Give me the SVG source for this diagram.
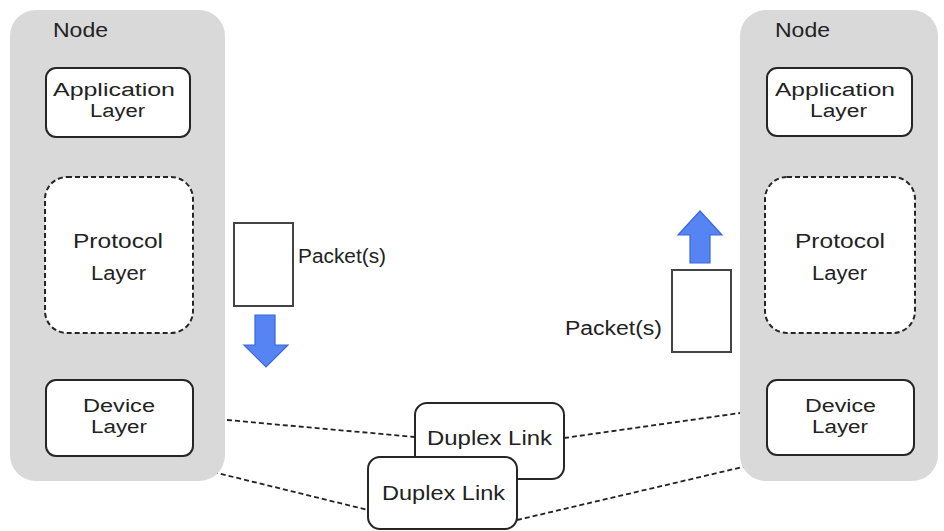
<svg xmlns="http://www.w3.org/2000/svg" width="944" height="531" viewBox="0 0 944 531">
<style>
.node{fill:#d9d9d9;stroke:none}
.box{fill:#fff;stroke:#262626;stroke-width:2}
.dbox{fill:#fff;stroke:#262626;stroke-width:2;stroke-dasharray:5 3}
.pkt{fill:#fff;stroke:#444;stroke-width:2}
.t{font-family:"Liberation Sans",Arial,sans-serif;font-size:20px;fill:#222}
.s{font-size:18px}
.conn{stroke:#555;stroke-width:2;fill:none}
.dash{stroke:#222;stroke-width:1.8;fill:none;stroke-dasharray:5 3}
.arr{fill:#5685f3;stroke:#3d66d6;stroke-width:1.2}
</style>
<rect width="944" height="531" fill="#fff"/>

<g id="connectors">
<line class="conn" x1="116" y1="137" x2="116" y2="177"/>
<line class="conn" x1="116" y1="333" x2="116" y2="380"/>
<line class="conn" x1="838" y1="136" x2="838" y2="177"/>
<line class="conn" x1="838" y1="333" x2="838" y2="380"/>
<line class="dash" x1="227" y1="420" x2="415" y2="437"/>
<line class="dash" x1="213" y1="472" x2="368" y2="510"/>
<line class="dash" x1="564" y1="438" x2="740" y2="413"/>
<line class="dash" x1="517" y1="520" x2="747" y2="466"/>
</g>

<g id="node-left">
<rect class="node" x="10" y="10" width="215" height="471" rx="26"/>
<text class="t" x="53" y="37" font-size="19" textLength="55" lengthAdjust="spacingAndGlyphs">Node</text>
</g>
<g id="app-left">
<rect class="box" x="46" y="68" width="144" height="69" rx="10"/>
<text class="t s" x="53" y="96" textLength="122" lengthAdjust="spacingAndGlyphs">Application</text>
<text class="t s" x="90" y="117" textLength="55" lengthAdjust="spacingAndGlyphs">Layer</text>
</g>
<g id="proto-left">
<rect class="dbox" x="45" y="177" width="148" height="156" rx="22"/>
<text class="t" x="73" y="248" textLength="90" lengthAdjust="spacingAndGlyphs">Protocol</text>
<text class="t" x="91" y="280" textLength="55" lengthAdjust="spacingAndGlyphs">Layer</text>
</g>
<g id="dev-left">
<rect class="box" x="46" y="380" width="147" height="76" rx="10"/>
<text class="t s" x="83" y="412" textLength="72" lengthAdjust="spacingAndGlyphs">Device</text>
<text class="t s" x="91" y="433" textLength="56" lengthAdjust="spacingAndGlyphs">Layer</text>
</g>

<g id="node-right">
<rect class="node" x="740" y="10" width="198" height="471" rx="26"/>
<text class="t" x="775" y="37" font-size="19" textLength="55" lengthAdjust="spacingAndGlyphs">Node</text>
</g>
<g id="app-right">
<rect class="box" x="767" y="68" width="145" height="68" rx="10"/>
<text class="t s" x="775" y="96" textLength="120" lengthAdjust="spacingAndGlyphs">Application</text>
<text class="t s" x="810" y="117" textLength="57" lengthAdjust="spacingAndGlyphs">Layer</text>
</g>
<g id="proto-right">
<rect class="dbox" x="765" y="177" width="150" height="156" rx="22"/>
<text class="t" x="795" y="248" textLength="90" lengthAdjust="spacingAndGlyphs">Protocol</text>
<text class="t" x="812" y="280" textLength="55" lengthAdjust="spacingAndGlyphs">Layer</text>
</g>
<g id="dev-right">
<rect class="box" x="767" y="380" width="147" height="75" rx="10"/>
<text class="t s" x="805" y="412" textLength="71" lengthAdjust="spacingAndGlyphs">Device</text>
<text class="t s" x="812" y="433" textLength="56" lengthAdjust="spacingAndGlyphs">Layer</text>
</g>

<g id="packet-left">
<rect class="pkt" x="234" y="223" width="59" height="83" stroke="#262626"/>
<text class="t" x="298" y="263" textLength="88" lengthAdjust="spacingAndGlyphs">Packet(s)</text>
</g>
<g id="arrow-down">
<polygon class="arr" points="255,315 275,315 275,345 288,345 266,367 244,345 255,345"/>
</g>

<g id="packet-right">
<rect class="pkt" x="672" y="270" width="59" height="82" stroke="#666"/>
<text class="t" x="565" y="335" textLength="97" lengthAdjust="spacingAndGlyphs">Packet(s)</text>
</g>
<g id="arrow-up">
<polygon class="arr" points="690,263 710,263 710,235 722,235 700,211 678,235 690,235"/>
</g>

<g id="link-upper">
<rect class="box" x="415" y="403" width="149" height="76" rx="12" stroke="#444"/>
<text class="t" x="427" y="445" textLength="125" lengthAdjust="spacingAndGlyphs">Duplex Link</text>
</g>
<g id="link-lower">
<rect class="box" x="368" y="457" width="149" height="72" rx="12"/>
<text class="t" x="382" y="500" textLength="123" lengthAdjust="spacingAndGlyphs">Duplex Link</text>
</g>
</svg>
